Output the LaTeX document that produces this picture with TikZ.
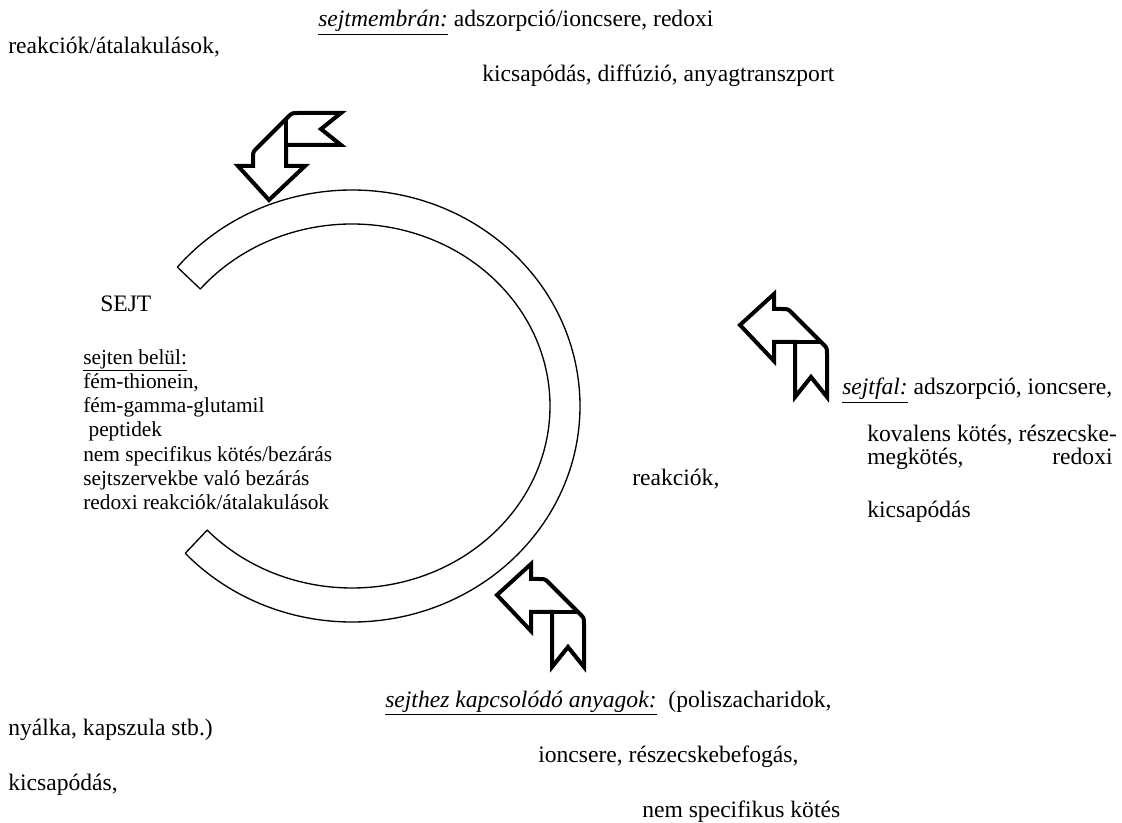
\documentclass[tikz,border=0pt]{standalone}
\usepackage{fontspec}
\setmainfont{Liberation Serif}
\usetikzlibrary{calc}

\tikzset{
  txt/.style={anchor=base west, inner sep=0pt, font=\fontsize{17.7}{27}\selectfont},
  listtxt/.style={anchor=north west, inner sep=0pt, align=left, font=\fontsize{16}{18.2}\selectfont},
  ringline/.style={line width=1pt, line join=round},
  arrowline/.style={line width=3pt, line join=miter, fill=white},
  ribbonarrow/.pic={
    \draw[arrowline] (0,0) -- (34,-31) -- (34,-16) -- (42,-16) .. controls (48,-16) .. (52,-12)
      -- (83,19) .. controls (87,23) .. (87,29) -- (87,72) -- (71,52) -- (55,72) -- (55,17)
      -- (34,17) -- (34,36) -- cycle;
    \draw[line width=3pt] (55,17) -- (81,17);
  }
}

\begin{document}
\begin{tikzpicture}[x=0.75pt, y=-0.75pt]
      \useasboundingbox (0,0) rectangle (1122,823);

      \coordinate (cellc) at (352,406);
      \draw[ringline] (cellc) ++(-140:228 and 216)
        arc[start angle=-140, end angle=137, x radius=228, y radius=216]
        -- ($(cellc)+(137:198 and 182)$)
        arc[start angle=137, end angle=-140, x radius=198, y radius=182] -- cycle;

      \pic[rotate=90] (membarrow) at (269,200) {ribbonarrow};
      \pic (wallarrow) at (740,325) {ribbonarrow};
      \pic (caparrow) at (497,595) {ribbonarrow};

      \node[txt] (mem1) at (318,27) {\underline{\textit{sejtmembrán:}} adszorpció/ioncsere, redoxi};
      \node[txt] (mem2) at (8,54) {reakciók/átalakulások,};
      \node[txt] (mem3) at (482,82) {kicsapódás, diffúzió, anyagtranszport};

      \node[txt] (cell) at (100,312) {SEJT};
      \node[listtxt] (inside) at (83,349) {\underline{sejten belül:}\\ fém-thionein,\\ fém-gamma-glutamil\\
        \ peptidek\\ nem specifikus kötés/bezárás\\ sejtszervekbe való bezárás\\ redoxi reakciók/átalakulások};

      \node[txt] (wall1) at (842,395) {\underline{\textit{sejtfal:}} adszorpció, ioncsere,};
      \node[txt] (wall2) at (867,442) {kovalens kötés, részecske-};
      \node[txt] (wall2b) at (867,465) {\makebox[184pt][l]{megkötés,\hfill redoxi}};
      \node[txt] (wall3) at (632,486) {reakciók,};
      \node[txt] (wall4) at (867,518) {kicsapódás};

      \node[txt] (cap1) at (385,707) {\underline{\textit{sejthez kapcsolódó anyagok:}}\ \ (poliszacharidok,};
      \node[txt] (cap2) at (8,735) {nyálka, kapszula stb.)};
      \node[txt] (cap3) at (538,762) {ioncsere, részecskebefogás,};
      \node[txt] (cap4) at (8,790) {kicsapódás,};
      \node[txt] (cap5) at (642,817) {nem specifikus kötés};
\end{tikzpicture}
\end{document}
